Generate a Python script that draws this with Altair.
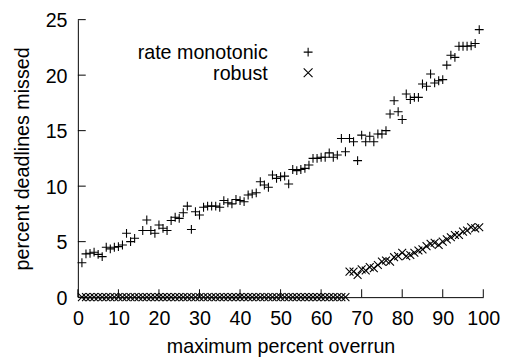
import altair as alt
import pandas as pd

# ---- data ----
series_names = ["rate monotonic", "robust"]

rm_x = [1, 2, 3, 4, 5, 6, 7, 8, 9, 10, 11, 12, 13, 14, 16, 17, 18, 19, 20,
        21, 22, 23, 24, 25, 26, 27, 28, 29, 30, 31, 32, 33, 34, 35, 36, 37, 38, 39, 40,
        41, 42, 43, 44, 45, 46, 47, 48, 49, 50, 51, 52, 53, 54, 55, 56, 57, 58, 59, 60,
        61, 62, 63, 64, 65, 66, 67, 68, 69, 70, 71, 72, 73, 74, 75, 76, 77, 78, 79, 80,
        81, 82, 83, 84, 85, 86, 87, 88, 89, 90, 91, 92, 93, 94, 95, 96, 97, 98, 99]
rm_y = [3.1, 3.9, 3.95, 4.05, 3.85, 3.65, 4.5, 4.35, 4.5, 4.55, 4.7, 5.75, 5.0, 5.3,
        6.0, 6.95, 6.0, 5.75, 6.5,
        6.2, 6.0, 6.9, 7.2, 7.1, 7.6, 8.2, 6.1, 7.7, 7.4,
        8.1, 8.2, 8.2, 8.2, 8.1, 8.7, 8.5, 8.4, 8.8, 8.7,
        8.6, 9.2, 9.3, 9.4, 10.4, 10.1, 9.9, 11.0, 10.7, 10.85,
        10.9, 10.2, 11.5, 11.4, 11.5, 11.6, 11.9, 12.5, 12.5, 12.6,
        12.6, 13.0, 12.6, 12.8, 14.3, 13.1, 14.3, 14.0, 12.3, 14.6,
        14.0, 14.5, 14.0, 14.7, 14.7, 15.0, 16.5, 17.7, 16.7, 16.0,
        18.3, 17.8, 18.0, 18.0, 19.2, 19.0, 20.1, 19.3, 19.5, 19.6,
        20.9, 21.8, 21.6, 22.6, 22.6, 22.6, 22.65, 22.85, 24.1]

rb_x = [1, 2, 3, 4, 5, 6, 7, 8, 9, 10, 11, 12, 13, 14, 15, 16, 17, 18, 19, 20,
        21, 22, 23, 24, 25, 26, 27, 28, 29, 30, 31, 32, 33, 34, 35, 36, 37, 38, 39, 40,
        41, 42, 43, 44, 45, 46, 47, 48, 49, 50, 51, 52, 53, 54, 55, 56, 57, 58, 59, 60,
        61, 62, 63, 64, 65, 66, 67, 68, 69, 70, 71, 72, 73, 74, 75, 76, 77, 78, 79, 80,
        81, 82, 83, 84, 85, 86, 87, 88, 89, 90, 91, 92, 93, 94, 95, 96, 97, 98, 99]
rb_y = [0, 0, 0, 0, 0, 0, 0, 0, 0, 0, 0, 0, 0, 0, 0, 0, 0, 0, 0, 0,
        0, 0, 0, 0, 0, 0, 0, 0, 0, 0, 0, 0, 0, 0, 0, 0, 0, 0, 0, 0,
        0, 0, 0, 0, 0, 0, 0, 0, 0, 0, 0, 0, 0, 0, 0, 0, 0, 0, 0, 0,
        0, 0, 0, 0, 0, 0, 2.3, 2.3, 2.0, 2.5, 2.4, 2.7, 2.6, 2.9, 3.2, 3.3,
        3.2, 3.6, 3.7, 4.0, 3.7, 3.8, 4.0, 4.2, 4.3, 4.6, 4.8, 4.9, 4.7, 5.0,
        5.2, 5.4, 5.6, 5.6, 5.9, 6.0, 6.3, 6.2, 6.3]

x_ticks = [0, 10, 20, 30, 40, 50, 60, 70, 80, 90, 100]
y_ticks = [0, 5, 10, 15, 20, 25]

df_rm = pd.DataFrame({"x": rm_x, "y": rm_y})
df_rb = pd.DataFrame({"x": rb_x, "y": rb_y})
df_xt = pd.DataFrame({"x": x_ticks})
df_yt = pd.DataFrame({"y": y_ticks})

W, H = 412, 282
TOP = 9
FONT = "Liberation Sans"
PLUS = "M-1,0L1,0M0,-1L0,1"
CROSS = "M-1,-1L1,1M-1,1L1,-1"

xs = alt.Scale(domain=[0, 100], nice=False, zero=False)
ys = alt.Scale(domain=[0, 25], nice=False, zero=False)

x_axis = alt.Axis(values=x_ticks, title="maximum percent overrun", grid=False,
                  ticks=False, tickSize=0, domainColor="black", domainWidth=1,
                  labelFont=FONT, labelFontSize=20, labelColor="black",
                  labelBaseline="alphabetic", labelPadding=28, labelFlush=False,
                  labelOverlap=False, titleFont=FONT, titleFontSize=20,
                  titleFontWeight="normal", titleColor="black",
                  titleBaseline="alphabetic", titleY=56)
y_axis = alt.Axis(values=y_ticks, title="percent deadlines missed", grid=False,
                  ticks=False, tickSize=0, domainColor="black", domainWidth=1,
                  labelFont=FONT, labelFontSize=20, labelColor="black",
                  labelPadding=11, labelOffset=1, labelFlush=False, labelOverlap=False,
                  titleFont=FONT, titleFontSize=20, titleFontWeight="normal",
                  titleColor="black", titleBaseline="alphabetic", titleAngle=270,
                  titleX=-50, titleY=H / 2, titleAlign="center")

rm = alt.Chart(df_rm).mark_point(shape=PLUS, size=81, filled=False, strokeWidth=1.1,
                                 color="black", opacity=1).encode(
    x=alt.X("x:Q", scale=xs, axis=x_axis),
    y=alt.Y("y:Q", scale=ys, axis=y_axis),
)
rb = alt.Chart(df_rb).mark_point(shape=CROSS, size=64, filled=False, strokeWidth=1.1,
                                 color="black", opacity=1).encode(
    x=alt.X("x:Q", scale=xs),
    y=alt.Y("y:Q", scale=ys),
)

xt = alt.Chart(df_xt).mark_rule(color="black", strokeWidth=1).encode(
    x=alt.X("x:Q", scale=xs), y=alt.value(H), y2=alt.value(H - 8))
yt = alt.Chart(df_yt).mark_rule(color="black", strokeWidth=1).encode(
    y=alt.Y("y:Q", scale=ys), x=alt.value(0), x2=alt.value(8))

leg_t1 = alt.Chart(pd.DataFrame({"name": [series_names[0]]})).mark_text(
    align="right", baseline="alphabetic", font=FONT, fontSize=20, color="black").encode(
    x=alt.value(193), y=alt.value(40), text="name:N")
leg_t2 = alt.Chart(pd.DataFrame({"name": [series_names[1]]})).mark_text(
    align="right", baseline="alphabetic", font=FONT, fontSize=20, color="black").encode(
    x=alt.value(193), y=alt.value(61), text="name:N")
leg_p1 = alt.Chart(pd.DataFrame({"name": [series_names[0]]})).mark_point(
    shape=PLUS, size=81, filled=False, strokeWidth=1.1, color="black", opacity=1).encode(
    x=alt.value(234), y=alt.value(33))
leg_p2 = alt.Chart(pd.DataFrame({"name": [series_names[1]]})).mark_point(
    shape=CROSS, size=81, filled=False, strokeWidth=1.1, color="black", opacity=1).encode(
    x=alt.value(234), y=alt.value(54))

chart = alt.layer(rm, rb, xt, yt, leg_t1, leg_t2, leg_p1, leg_p2).properties(
    width=W, height=H,
    autosize=alt.AutoSizeParams(type="none"),
    padding={"left": 71, "top": TOP, "right": 18, "bottom": 59},
    background="white",
).configure_view(stroke=None)

chart.save("out.html", embed_options={"renderer": "svg", "actions": False})
